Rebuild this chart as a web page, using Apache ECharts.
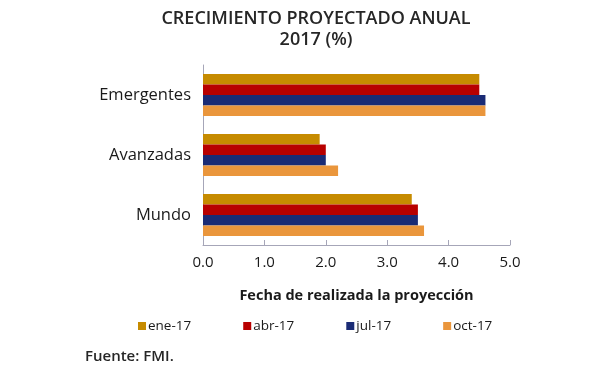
<!DOCTYPE html>
<html><head><meta charset="utf-8">
<script src="https://cdn.jsdelivr.net/npm/echarts@6/dist/echarts.min.js"></script>
<style>html,body{margin:0;padding:0;background:#fff}#c{width:600px;height:373px}</style>
</head><body><div id="c"></div>
<script>
const categories = ['Mundo', 'Avanzadas', 'Emergentes'];
const seriesNames = ['ene-17', 'abr-17', 'jul-17', 'oct-17'];
const ene17 = [3.4, 1.9, 4.5];
const abr17 = [3.5, 2.0, 4.5];
const jul17 = [3.5, 2.0, 4.6];
const oct17 = [3.6, 2.2, 4.6];
const xTicks = [0, 1, 2, 3, 4, 5];
const colors = ['#C68B00', '#B80000', '#1A2B75', '#EA963C'];
const values = [ene17, abr17, jul17, oct17];
const font = 'Open Sans';
const chart = echarts.init(document.getElementById('c'));
chart.setOption({
  animation: false,
  textStyle: { fontFamily: font },
  title: {
    text: 'CRECIMIENTO PROYECTADO ANUAL\n2017 (%)',
    left: 311, top: 3, textAlign: 'center',
    textStyle: { fontSize: 18, fontWeight: 600, color: '#262626', lineHeight: 21, fontFamily: font, align: 'center' }
  },
  legend: {
    top: 314, left: 133, itemGap: 52,
    itemWidth: 8, itemHeight: 8, icon: 'rect',
    textStyle: { fontSize: 13.5, color: '#1a1a1a', padding: [0, 0, 0, -3] },
    data: seriesNames
  },
  grid: { left: 203, right: 90, top: 65, bottom: 128, containLabel: false },
  xAxis: {
    type: 'value', min: xTicks[0], max: xTicks[xTicks.length - 1], interval: 1,
    axisLine: { show: true, lineStyle: { color: '#a6a6b8', width: 1 } },
    axisTick: { show: true, inside: true, length: 5, lineStyle: { color: '#a6a6b8' } },
    splitLine: { show: false },
    axisLabel: { formatter: v => v.toFixed(1), fontSize: 15, color: '#1a1a1a', margin: 10 },
    name: 'Fecha de realizada la proyección',
    nameLocation: 'middle', nameGap: 43,
    nameTextStyle: { fontSize: 14.5, fontWeight: 'bold', color: '#1a1a1a' }
  },
  yAxis: {
    type: 'category', data: categories,
    axisLine: { show: true, lineStyle: { color: '#a6a6b8', width: 1 } },
    axisTick: { show: false },
    axisLabel: { fontSize: 16.5, color: '#1a1a1a', margin: 12, padding: [0, 0, 3, 0] }
  },
  graphic: [{
    type: 'text', left: 85, top: 349,
    style: { text: 'Fuente: FMI.', font: '600 15px "Open Sans"', fill: '#262626' }
  }],
  series: seriesNames.map((n, i) => ({
    name: n, type: 'bar', data: values[i],
    barGap: '0%', barCategoryGap: '30%',
    itemStyle: { color: colors[i] }
  }))
});
</script></body></html>
